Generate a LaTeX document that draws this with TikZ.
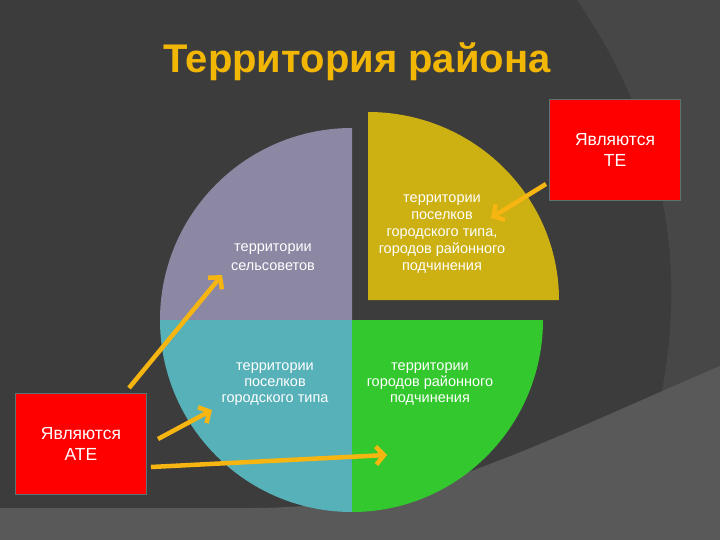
\documentclass[tikz,border=0pt]{standalone}
\usepackage{fontspec}
\setmainfont{Liberation Sans}
\usetikzlibrary{arrows.meta}
\definecolor{slatebg}{HTML}{3C3C3C}
\definecolor{midbg}{HTML}{474747}
\definecolor{bandbg}{HTML}{595959}
\definecolor{lavender}{HTML}{8C88A4}
\definecolor{goldquad}{HTML}{CDB012}
\definecolor{tealquad}{HTML}{57B1B9}
\definecolor{greenquad}{HTML}{33C82D}
\definecolor{headgold}{HTML}{F2B705}
\definecolor{arrowgold}{HTML}{F6B511}
\definecolor{boxrim}{HTML}{5C7371}
\tikzset{
  heading/.style={text=headgold, font=\fontsize{40}{44}\selectfont\bfseries, inner sep=0pt},
  qlabel/.style={text=white, align=center, inner sep=0pt, font=\fontsize{14.5}{17}\selectfont},
  redbox/.style={fill=red, draw=boxrim, line width=1.5pt, minimum width=131, minimum height=101,
    text=white, align=center, font=\fontsize{17.5}{21}\selectfont},
  pointer/.style={-{Straight Barb[length=8pt, width=18pt]}, line width=4.5pt, draw=arrowgold},
}
\begin{document}
\begin{tikzpicture}[x=1pt,y=-1pt]
\useasboundingbox (0,0) rectangle (720,540);
% backdrop
\fill[slatebg] (0,0) rectangle (720,540);
\fill[midbg] (577,0) .. controls (660,120) and (690,260) .. (660,400) -- (720,400) -- (720,0) -- cycle;
\fill[bandbg] (0,508) -- (250,508) .. controls (330,508) and (400,495) .. (460,475)
  .. controls (540,447) and (640,400) .. (720,366) -- (720,540) -- (0,540) -- cycle;
% pie quarters
\fill[lavender] (352,320) -- (160,320) arc[start angle=180, end angle=270, radius=192] -- cycle;
\fill[goldquad] (368,300) -- (368,112) arc[start angle=270, end angle=360, x radius=191, y radius=188] -- cycle;
\fill[tealquad] (352,320) -- (352,512) arc[start angle=90, end angle=180, radius=192] -- cycle;
\fill[greenquad] (352,320) -- (543,320) arc[start angle=0, end angle=90, x radius=191, y radius=192] -- cycle;
% title
\node[heading, anchor=base] (title) at (357,73) {Территория района};
% quarter texts
\node[qlabel, font=\fontsize{14.5}{19}\selectfont] (selsovet) at (273,257) {территории\\сельсоветов};
\node[qlabel] (pgt) at (442,234) {территории\\поселков\\городского типа,\\городов районного\\подчинения};
\node[qlabel, font=\fontsize{14.5}{16}\selectfont] (poselki) at (275,384) {территории\\поселков\\городского типа};
\node[qlabel, font=\fontsize{14.5}{16}\selectfont] (goroda) at (430,384) {территории\\городов районного\\подчинения};
% red boxes
\node[redbox] (te) at (615,150) {Являются\\ТЕ};
\node[redbox] (ate) at (81,444) {Являются\\АТЕ};
% arrow ends
\coordinate (teTail) at (546,184);
\coordinate (teTip) at (491,218);
\coordinate (ateTailA) at (129,388);
\coordinate (ateTipA) at (222,275);
\coordinate (ateTailB) at (158,439);
\coordinate (ateTipB) at (212,410);
\coordinate (ateTailC) at (151,467);
\coordinate (ateTipC) at (387,455);
\draw[pointer] (teTail) -- (teTip);
\draw[pointer] (ateTailA) -- (ateTipA);
\draw[pointer] (ateTailB) -- (ateTipB);
\draw[pointer] (ateTailC) -- (ateTipC);
\end{tikzpicture}
\end{document}
